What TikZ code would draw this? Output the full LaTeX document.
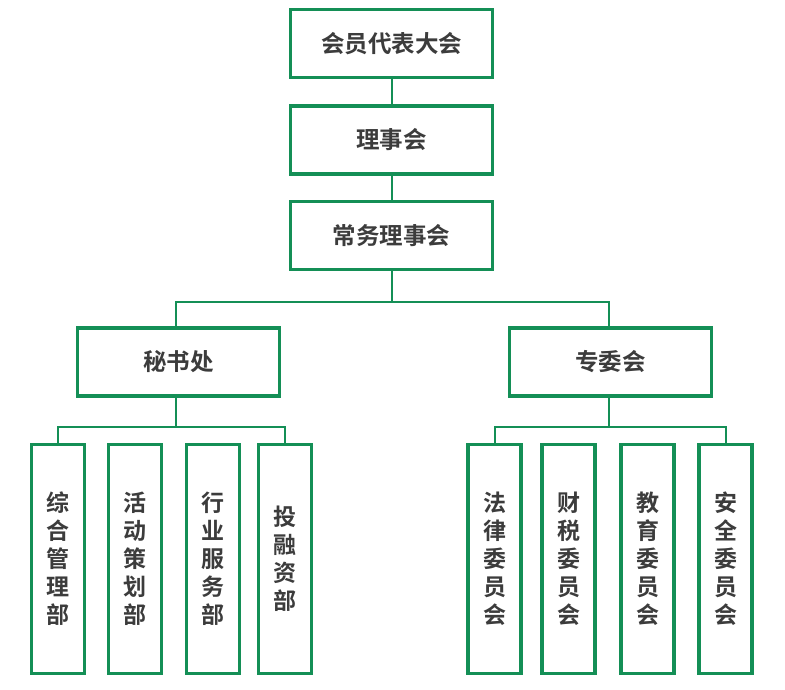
\documentclass[tikz,border=0pt]{standalone}
\usepackage{fontspec}
\usepackage{xcolor}
\usepackage{tikz}
\usetikzlibrary{positioning, calc}
\setmainfont{Noto Sans CJK SC Bold}
\definecolor{orggreen}{HTML}{148F56}
\definecolor{orgtext}{HTML}{3C3C3C}

\tikzset{
  orgbox/.style={draw=orggreen, line width=3.5pt, fill=white, text=orgtext,
                 minimum width=202pt, minimum height=68pt, inner sep=0pt,
                 font=\fontsize{23.5}{26}\selectfont},
  deptbox/.style={draw=orggreen, line width=3.5pt, fill=white, text=orgtext,
                  minimum width=53pt, minimum height=229pt, inner sep=0pt,
                  align=center, font=\fontsize{23}{28}\selectfont},
  link/.style={draw=orggreen, line width=2pt}
}

\begin{document}
\begin{tikzpicture}[x=1pt, y=1pt]
    \useasboundingbox (0,0) rectangle (785,-690);

    % top levels
    \node[orgbox] (hydbdh) at (391.5,-43.5) {会员代表大会};
    \node[orgbox] (lsh)    at (391.5,-140)  {理事会};
    \node[orgbox] (cwlsh)  at (391.5,-235.5) {常务理事会};

    % second level
    \node[orgbox] (msc) at (178.5,-362) {秘书处};
    \node[orgbox] (zwh) at (610.5,-362) {专委会};

    % departments under 秘书处
    \node[deptbox] (zhgl) at (58,-559)  {综\\合\\管\\理\\部};
    \node[deptbox] (hdch) at (135,-559) {活\\动\\策\\划\\部};
    \node[deptbox] (hyfw) at (213,-559) {行\\业\\服\\务\\部};
    \node[deptbox] (trz)  at (285,-559) {投\\融\\资\\部};

    % committees under 专委会
    \node[deptbox] (fl) at (494.5,-559) {法\\律\\委\\员\\会};
    \node[deptbox] (cs) at (568.5,-559) {财\\税\\委\\员\\会};
    \node[deptbox] (jy) at (647.5,-559) {教\\育\\委\\员\\会};
    \node[deptbox] (aq) at (725.5,-559) {安\\全\\委\\员\\会};

    \coordinate (jtop)   at (391.5,-302);
    \coordinate (jleft)  at (176,-427);
    \coordinate (jright) at (609,-427);

    \draw[link] (hydbdh) -- (lsh);
    \draw[link] (lsh) -- (cwlsh);
    \draw[link] (cwlsh) -- (jtop);
    \draw[link] (jleft |- msc.north) |- (jtop) -| (jright |- zwh.north);

    \draw[link] (jleft |- msc.south) -- (jleft);
    \draw[link] (zhgl.north) |- (jleft) -| (trz.north);
    \draw[link] (jright |- zwh.south) -- (jright);
    \draw[link] (fl.north) |- (jright) -| (aq.north);
\end{tikzpicture}
\end{document}
